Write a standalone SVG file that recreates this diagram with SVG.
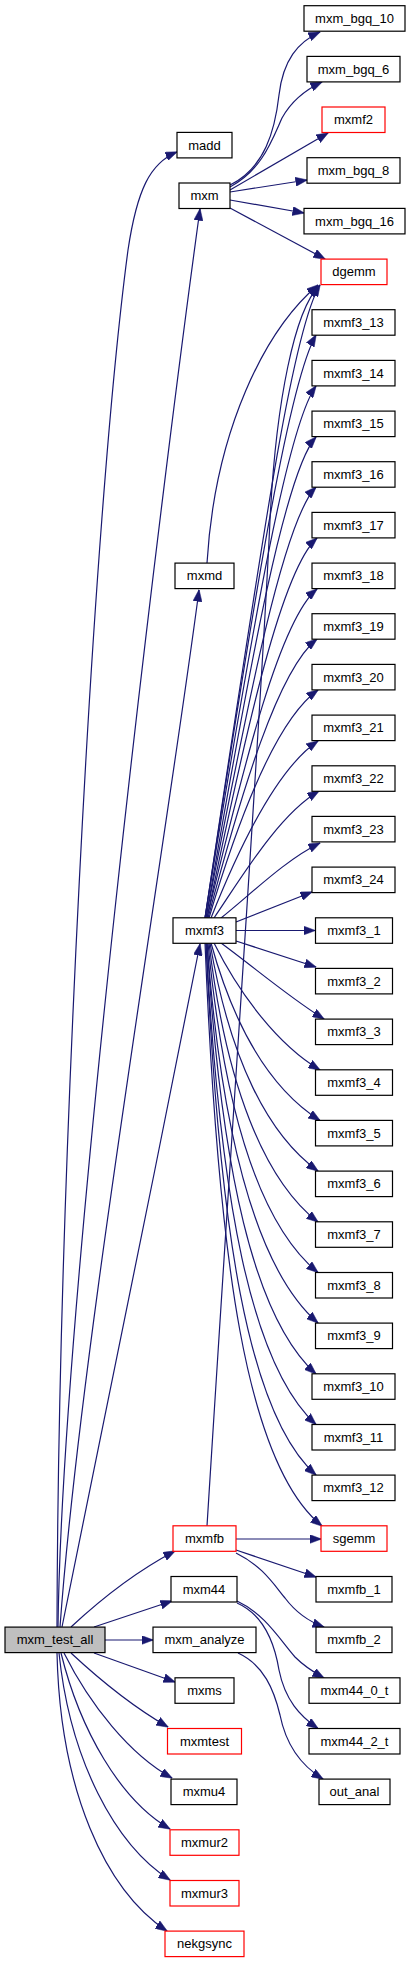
<svg xmlns="http://www.w3.org/2000/svg" width="409" height="1963" viewBox="0 0 409 1963">
<style>
.n rect{fill:#fff;stroke:#000;stroke-width:1.2}
.n.r rect{stroke:#ff0000}
.n.root rect{fill:#bfbfbf}
.n text{font-family:"Liberation Sans",Arial,sans-serif;font-size:13px;text-anchor:middle;fill:#000}
.e path{fill:none;stroke:#191970;stroke-width:1.2;marker-end:url(#a)}
</style>
<defs>
<marker id="a" markerUnits="userSpaceOnUse" markerWidth="12" markerHeight="9" refX="11.5" refY="4.5" orient="auto">
<path d="M0,0 L12,4.5 L0,9 z" fill="#191970" stroke="#191970" stroke-width="0.5"/>
</marker>
</defs>
<g id="connectors" class="e">
<path d="M57,1627 C58,1200 92,520 128,250 C137,190 150,163 177,152"/>
<path d="M58,1627 C62,1300 160,500 200,209"/>
<path d="M60,1627 C80,1350 165,850 199,590"/>
<path d="M62,1627 C70,1580 150,1200 200,944"/>
<path d="M71,1627 C100,1600 135,1572 175,1551"/>
<path d="M94,1627 L172,1601"/>
<path d="M105,1640 L153,1640"/>
<path d="M94,1653 L175,1682"/>
<path d="M71,1653 C100,1680 135,1708 168,1727"/>
<path d="M64,1653 C90,1705 130,1755 172,1778"/>
<path d="M61,1653 C80,1730 120,1800 170,1829"/>
<path d="M59,1653 C70,1760 115,1845 170,1880"/>
<path d="M57,1653 C60,1790 105,1890 167,1931"/>
<path d="M230,185 C265,168 275,130 279,95 C283,60 298,42 320,32"/>
<path d="M230,187 C262,170 272,140 282,118 C292,100 305,90 322,82"/>
<path d="M230,190 L328,133"/>
<path d="M230,192 L307,180"/>
<path d="M230,200 L304,213"/>
<path d="M230,208 L325,259"/>
<path d="M207,563 C215,430 265,330 318,285"/>
<path d="M205,918 C262,540 292,330 320,285"/>
<path d="M207,1526 C240,1000 262,700 270,520 C276,400 295,310 319,286"/>
<path d="M205,918 C258,570 290,380 316,335"/>
<path d="M205,918 C255,610 288,425 316,386"/>
<path d="M206,918 C252,650 286,470 316,437"/>
<path d="M206,918 C250,690 284,520 316,487"/>
<path d="M207,918 C248,720 282,570 317,538"/>
<path d="M207,918 C245,760 280,620 317,589"/>
<path d="M208,918 C242,790 278,670 317,639"/>
<path d="M209,918 C238,820 276,720 318,690"/>
<path d="M211,918 C236,855 275,770 318,741"/>
<path d="M214,918 C240,880 278,815 319,791"/>
<path d="M221,918 C250,895 285,860 320,843"/>
<path d="M236,922 L312,892"/>
<path d="M236,930.5 L315,930.5"/>
<path d="M236,941 L316,967"/>
<path d="M221,943 C255,968 290,998 324,1019"/>
<path d="M214,943 C240,995 278,1045 320,1070"/>
<path d="M211,943 C235,1030 272,1090 320,1120.5"/>
<path d="M210,943 C230,1060 268,1135 318,1171"/>
<path d="M209,943 C226,1085 264,1180 318,1222"/>
<path d="M208,943 C224,1110 260,1225 318,1272.5"/>
<path d="M207,943 C222,1140 257,1270 318,1323"/>
<path d="M207,943 C221,1170 254,1318 316,1374"/>
<path d="M206,943 C220,1200 251,1365 316,1424.5"/>
<path d="M206,943 C219,1230 248,1415 316,1475"/>
<path d="M205,943 C218,1260 246,1465 322,1526"/>
<path d="M236,1539 L321,1539"/>
<path d="M236,1550 L316,1577"/>
<path d="M236,1553 C262,1566 272,1582 285,1598 C297,1614 310,1622 324,1627"/>
<path d="M237,1601 C265,1614 280,1640 295,1657 C306,1668 315,1673 324,1678"/>
<path d="M237,1603 C262,1614 274,1640 279,1670 C285,1700 300,1716 318,1728.5"/>
<path d="M238,1653 C264,1665 274,1690 280,1715 C286,1745 300,1765 323,1779"/>
</g>
<g id="mxm_test_all" class="n root"><rect x="5" y="1627.1" width="100" height="25.5"/><text x="55" y="1644.4">mxm_test_all</text></g>
<g id="madd" class="n"><rect x="177" y="132.4" width="55" height="25.5"/><text x="204.5" y="149.7">madd</text></g>
<g id="mxm" class="n"><rect x="179" y="183" width="51" height="25.5"/><text x="204.5" y="200.3">mxm</text></g>
<g id="mxmd" class="n"><rect x="175" y="563.1" width="59" height="25.5"/><text x="204.5" y="580.4">mxmd</text></g>
<g id="mxmf3" class="n"><rect x="173" y="917.8" width="63" height="25.5"/><text x="204.5" y="935.1">mxmf3</text></g>
<g id="mxmfb" class="n r"><rect x="173" y="1525.8" width="63" height="25.5"/><text x="204.5" y="1543.1">mxmfb</text></g>
<g id="mxm44" class="n"><rect x="171" y="1576.5" width="66" height="25.5"/><text x="204" y="1593.8">mxm44</text></g>
<g id="mxm_analyze" class="n"><rect x="153" y="1627.1" width="103" height="25.5"/><text x="204.5" y="1644.4">mxm_analyze</text></g>
<g id="mxms" class="n"><rect x="175" y="1677.8" width="59" height="25.5"/><text x="204.5" y="1695.1">mxms</text></g>
<g id="mxmtest" class="n r"><rect x="167.5" y="1728.5" width="74" height="25.5"/><text x="204.5" y="1745.8">mxmtest</text></g>
<g id="mxmu4" class="n"><rect x="171" y="1779.1" width="66" height="25.5"/><text x="204" y="1796.4">mxmu4</text></g>
<g id="mxmur2" class="n r"><rect x="170" y="1829.8" width="69" height="25.5"/><text x="204.5" y="1847.1">mxmur2</text></g>
<g id="mxmur3" class="n r"><rect x="170" y="1880.5" width="69" height="25.5"/><text x="204.5" y="1897.8">mxmur3</text></g>
<g id="nekgsync" class="n r"><rect x="165" y="1931.1" width="79" height="25.5"/><text x="204.5" y="1948.4">nekgsync</text></g>
<g id="mxm_bgq_10" class="n"><rect x="304" y="5.7" width="101" height="25.5"/><text x="354.5" y="23">mxm_bgq_10</text></g>
<g id="mxm_bgq_6" class="n"><rect x="307" y="56.4" width="93" height="25.5"/><text x="353.5" y="73.7">mxm_bgq_6</text></g>
<g id="mxmf2" class="n r"><rect x="322" y="107" width="63" height="25.5"/><text x="353.5" y="124.3">mxmf2</text></g>
<g id="mxm_bgq_8" class="n"><rect x="307" y="157.7" width="93" height="25.5"/><text x="353.5" y="175">mxm_bgq_8</text></g>
<g id="mxm_bgq_16" class="n"><rect x="304" y="208.4" width="101" height="25.5"/><text x="354.5" y="225.7">mxm_bgq_16</text></g>
<g id="dgemm" class="n r"><rect x="321" y="259.1" width="66" height="25.5"/><text x="354" y="276.4">dgemm</text></g>
<g id="mxmf3_13" class="n"><rect x="312" y="309.7" width="83" height="25.5"/><text x="353.5" y="327">mxmf3_13</text></g>
<g id="mxmf3_14" class="n"><rect x="312" y="360.4" width="83" height="25.5"/><text x="353.5" y="377.7">mxmf3_14</text></g>
<g id="mxmf3_15" class="n"><rect x="312" y="411.1" width="83" height="25.5"/><text x="353.5" y="428.4">mxmf3_15</text></g>
<g id="mxmf3_16" class="n"><rect x="312" y="461.7" width="83" height="25.5"/><text x="353.5" y="479">mxmf3_16</text></g>
<g id="mxmf3_17" class="n"><rect x="312" y="512.4" width="83" height="25.5"/><text x="353.5" y="529.7">mxmf3_17</text></g>
<g id="mxmf3_18" class="n"><rect x="312" y="563.1" width="83" height="25.5"/><text x="353.5" y="580.4">mxmf3_18</text></g>
<g id="mxmf3_19" class="n"><rect x="312" y="613.7" width="83" height="25.5"/><text x="353.5" y="631">mxmf3_19</text></g>
<g id="mxmf3_20" class="n"><rect x="312" y="664.4" width="83" height="25.5"/><text x="353.5" y="681.7">mxmf3_20</text></g>
<g id="mxmf3_21" class="n"><rect x="312" y="715.1" width="83" height="25.5"/><text x="353.5" y="732.4">mxmf3_21</text></g>
<g id="mxmf3_22" class="n"><rect x="312" y="765.8" width="83" height="25.5"/><text x="353.5" y="783.1">mxmf3_22</text></g>
<g id="mxmf3_23" class="n"><rect x="312" y="816.4" width="83" height="25.5"/><text x="353.5" y="833.7">mxmf3_23</text></g>
<g id="mxmf3_24" class="n"><rect x="312" y="867.1" width="83" height="25.5"/><text x="353.5" y="884.4">mxmf3_24</text></g>
<g id="mxmf3_1" class="n"><rect x="315.5" y="917.8" width="77" height="25.5"/><text x="354" y="935.1">mxmf3_1</text></g>
<g id="mxmf3_2" class="n"><rect x="315.5" y="968.4" width="77" height="25.5"/><text x="354" y="985.7">mxmf3_2</text></g>
<g id="mxmf3_3" class="n"><rect x="315.5" y="1019.1" width="77" height="25.5"/><text x="354" y="1036.4">mxmf3_3</text></g>
<g id="mxmf3_4" class="n"><rect x="315.5" y="1069.8" width="77" height="25.5"/><text x="354" y="1087.1">mxmf3_4</text></g>
<g id="mxmf3_5" class="n"><rect x="315.5" y="1120.4" width="77" height="25.5"/><text x="354" y="1137.7">mxmf3_5</text></g>
<g id="mxmf3_6" class="n"><rect x="315.5" y="1171.1" width="77" height="25.5"/><text x="354" y="1188.4">mxmf3_6</text></g>
<g id="mxmf3_7" class="n"><rect x="315.5" y="1221.8" width="77" height="25.5"/><text x="354" y="1239.1">mxmf3_7</text></g>
<g id="mxmf3_8" class="n"><rect x="315.5" y="1272.5" width="77" height="25.5"/><text x="354" y="1289.8">mxmf3_8</text></g>
<g id="mxmf3_9" class="n"><rect x="315.5" y="1323.1" width="77" height="25.5"/><text x="354" y="1340.4">mxmf3_9</text></g>
<g id="mxmf3_10" class="n"><rect x="312" y="1373.8" width="83" height="25.5"/><text x="353.5" y="1391.1">mxmf3_10</text></g>
<g id="mxmf3_11" class="n"><rect x="312" y="1424.5" width="83" height="25.5"/><text x="353.5" y="1441.8">mxmf3_11</text></g>
<g id="mxmf3_12" class="n"><rect x="312" y="1475.1" width="83" height="25.5"/><text x="353.5" y="1492.4">mxmf3_12</text></g>
<g id="sgemm" class="n r"><rect x="321" y="1525.8" width="66" height="25.5"/><text x="354" y="1543.1">sgemm</text></g>
<g id="mxmfb_1" class="n"><rect x="316" y="1576.5" width="76" height="25.5"/><text x="354" y="1593.8">mxmfb_1</text></g>
<g id="mxmfb_2" class="n"><rect x="316" y="1627.1" width="76" height="25.5"/><text x="354" y="1644.4">mxmfb_2</text></g>
<g id="mxm44_0_t" class="n"><rect x="309" y="1677.8" width="91" height="25.5"/><text x="354.5" y="1695.1">mxm44_0_t</text></g>
<g id="mxm44_2_t" class="n"><rect x="309" y="1728.5" width="91" height="25.5"/><text x="354.5" y="1745.8">mxm44_2_t</text></g>
<g id="out_anal" class="n"><rect x="319" y="1779.1" width="71" height="25.5"/><text x="354.5" y="1796.4">out_anal</text></g>
</svg>
